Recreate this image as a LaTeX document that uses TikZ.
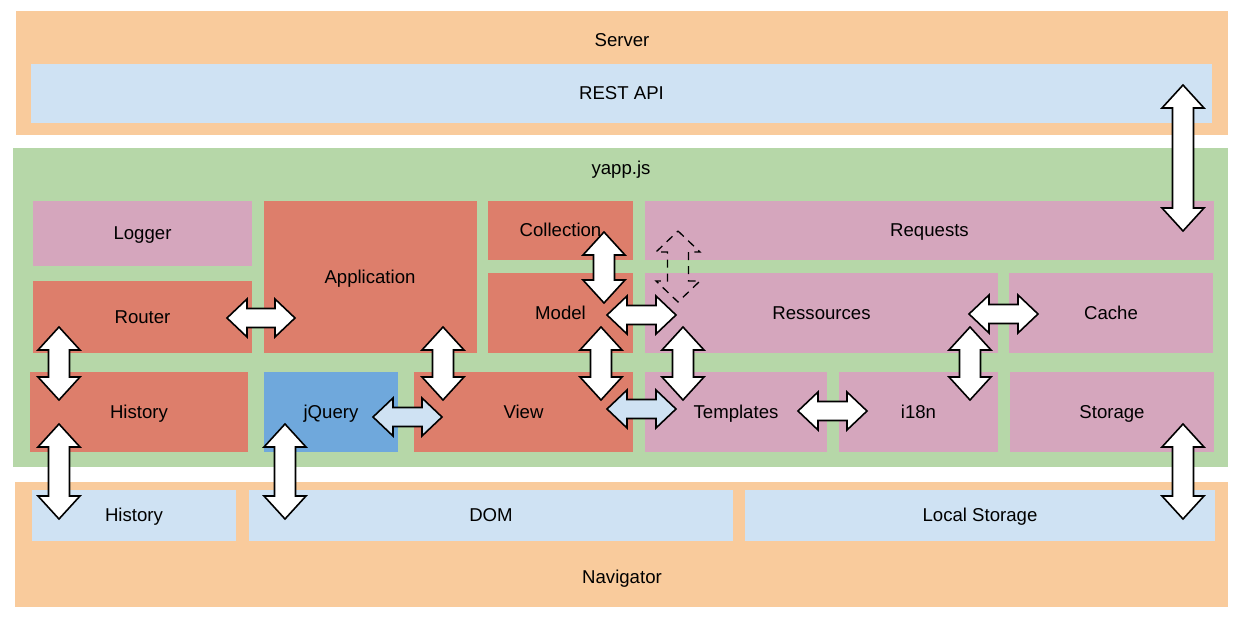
\documentclass[tikz,border=0pt]{standalone}
\usepackage{fontspec}
\setmainfont{Liberation Sans}
\usetikzlibrary{calc}
\definecolor{cOrange}{HTML}{F9CB9C}
\definecolor{cLBlue}{HTML}{CFE2F3}
\definecolor{cGreen}{HTML}{B6D7A8}
\definecolor{cPink}{HTML}{D5A6BD}
\definecolor{cRed}{HTML}{DD7E6B}
\definecolor{cBlue}{HTML}{6FA8DC}
\tikzset{
  box/.style={inner sep=0pt, outer sep=0pt, anchor=north west, draw=none, text height=16.8bp, text depth=3.9bp},
  lbl/.style={inner sep=0pt, outer sep=0pt, text height=16.8bp, text depth=3.9bp},
  blk/.style n args={3}{to path={let \p1=(\tikztostart), \p2=(\tikztotarget),
      \n1={veclen(\x2-\x1,\y2-\y1)}, \n2={atan2(\y2-\y1,\x2-\x1)} in
      -- ([shift={(\p1)},rotate=\n2]#1,#2)
      -- ([shift={(\p1)},rotate=\n2]#1,#3)
      -- ([shift={(\p1)},rotate=\n2]{\n1-#1},#3)
      -- ([shift={(\p1)},rotate=\n2]{\n1-#1},#2)
      -- (\tikztotarget)
      -- ([shift={(\p1)},rotate=\n2]{\n1-#1},-#2)
      -- ([shift={(\p1)},rotate=\n2]{\n1-#1},-#3)
      -- ([shift={(\p1)},rotate=\n2]#1,-#3)
      -- ([shift={(\p1)},rotate=\n2]#1,-#2)
      -- cycle}},
  arrowlook/.style={draw=black, line width=1.6bp, line join=miter, fill=white},
  varrow/.style={arrowlook, blk={23bp}{21bp}{10.5bp}},
  harrow/.style={arrowlook, blk={20bp}{19bp}{9.5bp}},
  dasharrow/.style={draw=black, line width=1.3bp, dash pattern=on 8bp off 6bp, fill=none, blk={21bp}{22bp}{10.5bp}}
}
\begin{document}
\begin{tikzpicture}[x=1bp, y=-1bp, font=\fontsize{18.6bp}{22bp}\selectfont]
\useasboundingbox (0,0) rectangle (1246,620);
% containers
\node[box, fill=cOrange, minimum width=1212bp, minimum height=124bp] (server) at (16,11) {};
\node[lbl] (servertxt) at (622,40) {Server};
\node[box, fill=cLBlue, minimum width=1181bp, minimum height=59bp] (rest) at (31,64) {REST API};
\node[box, fill=cGreen, minimum width=1215bp, minimum height=319bp] (yapp) at (13,148) {};
\node[lbl] (yapptxt) at (621,168) {yapp.js};
\node[box, fill=cOrange, minimum width=1213bp, minimum height=125bp] (nav) at (15,482) {};
\node[lbl] (navtxt) at (622,577) {Navigator};
% yapp.js modules
\node[box, fill=cPink, minimum width=219bp, minimum height=65bp] (logger) at (33,201) {Logger};
\node[box, fill=cRed, minimum width=213bp, minimum height=152bp] (app) at (264,201) {};
\node[lbl] (apptxt) at (370,277) {Application};
\node[box, fill=cRed, minimum width=145bp, minimum height=59bp] (collection) at (488,201) {Collection};
\node[box, fill=cPink, minimum width=569bp, minimum height=59bp] (requests) at (645,201) {Requests};
\node[box, fill=cRed, minimum width=219bp, minimum height=72bp] (router) at (33,281) {Router};
\node[box, fill=cRed, minimum width=145bp, minimum height=80bp] (model) at (488,273) {Model};
\node[box, fill=cPink, minimum width=353bp, minimum height=80bp] (ressources) at (645,273) {Ressources};
\node[box, fill=cPink, minimum width=204bp, minimum height=80bp] (cache) at (1009,273) {Cache};
\node[box, fill=cRed, minimum width=218bp, minimum height=80bp] (history) at (30,372) {History};
\node[box, fill=cBlue, minimum width=134bp, minimum height=80bp] (jquery) at (264,372) {jQuery};
\node[box, fill=cRed, minimum width=219bp, minimum height=80bp] (view) at (414,372) {View};
\node[box, fill=cPink, minimum width=182bp, minimum height=80bp] (templates) at (645,372) {Templates};
\node[box, fill=cPink, minimum width=159bp, minimum height=80bp] (i18n) at (839,372) {i18n};
\node[box, fill=cPink, minimum width=204bp, minimum height=80bp] (storage) at (1010,372) {Storage};
% navigator parts
\node[box, fill=cLBlue, minimum width=204bp, minimum height=51bp] (navhistory) at (32,490) {History};
\node[box, fill=cLBlue, minimum width=484bp, minimum height=51bp] (dom) at (249,490) {DOM};
\node[box, fill=cLBlue, minimum width=470bp, minimum height=51bp] (localstorage) at (745,490) {Local Storage};
% arrow end points
\coordinate (restA) at (1183,85);   \coordinate (reqA) at (1183,231);
\coordinate (routerA) at (59,327);  \coordinate (histA) at (59,400);
\coordinate (histB) at (59,424);    \coordinate (navhistA) at (59,519);
\coordinate (routerB) at (227,318); \coordinate (appA) at (295,318);
\coordinate (appB) at (443,327);    \coordinate (viewA) at (443,400);
\coordinate (jqA) at (373,417);     \coordinate (viewB) at (442,417);
\coordinate (jqB) at (285,424);     \coordinate (domA) at (285,519);
\coordinate (collA) at (604,232);   \coordinate (modelA) at (604,303);
\coordinate (modelB) at (607,315);  \coordinate (resA) at (676,315);
\coordinate (modelC) at (601,327);  \coordinate (viewC) at (601,400);
\coordinate (resB) at (683,327);    \coordinate (tplA) at (683,400);
\coordinate (viewD) at (607,409);   \coordinate (tplB) at (676,409);
\coordinate (reqB) at (678,231);    \coordinate (resC) at (678,302);
\coordinate (resD) at (969,314);    \coordinate (cacheA) at (1038,314);
\coordinate (resE) at (970,327);    \coordinate (i18nA) at (970,400);
\coordinate (tplC) at (798,411);    \coordinate (i18nB) at (867,411);
\coordinate (storA) at (1183,424);  \coordinate (lsA) at (1183,519);
% arrows
\draw[varrow] (restA) to (reqA);
\draw[varrow] (routerA) to (histA);
\draw[varrow] (histB) to (navhistA);
\draw[harrow] (routerB) to (appA);
\draw[varrow] (appB) to (viewA);
\draw[harrow, fill=cLBlue] (jqA) to (viewB);
\draw[varrow] (jqB) to (domA);
\draw[varrow] (collA) to (modelA);
\draw[harrow] (modelB) to (resA);
\draw[varrow] (modelC) to (viewC);
\draw[varrow] (resB) to (tplA);
\draw[harrow, fill=cLBlue] (viewD) to (tplB);
\draw[dasharrow] (reqB) to (resC);
\draw[harrow] (resD) to (cacheA);
\draw[varrow] (resE) to (i18nA);
\draw[harrow] (tplC) to (i18nB);
\draw[varrow] (storA) to (lsA);
\end{tikzpicture}
\end{document}
